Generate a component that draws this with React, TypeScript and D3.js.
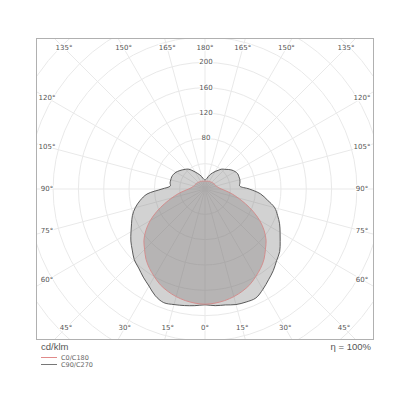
import React from "react";
import * as d3 from "d3";

// Angles (gamma, degrees from nadir)
const angles = [0,5,10,15,20,25,30,35,40,45,50,55,60,65,70,75,80,85,90,95,100,105,110,115,120,125,130,135,140,145,150,155,160,165,170,175,180];

// Intensities in cd/klm
const c0 = [182,181,179,176,172,167,160,153,145,135,126,114,100,84,68,54,43,33,26,22,20,18,17.5,17,16.5,16,15.5,15,14.5,14,14,13.5,13,13,12.5,12.5,12.5];
const c180 = [182,181,179,176,172,167,160,153,145,135,126,114,100,84,68,54,43,33,26,22,20,18,17.5,17,16.5,16,15.5,15,14.5,14,14,13.5,13,13,12.5,12.5,12.5];
const c90 = [183,185,186,189,190,190,183,175,168,160,154,145,137,130,122,114,100,88,70,55,56,57,57,57,55,52,48,44,41,36,32,28,24.5,20.5,17,15,14];
const c270 = [183,185,187,189,191,186,177,170,163,158,150,143,135,128,122,114,104,92,68,55,56,56,56,55,53,50,47,44,41,36,31,27,23.5,20,17,15,14];

const ringValues = [40,80,120,160,200,240,280,320];
const ringLabels = [80,120,160,200];
const angleTicks = [0,15,30,45,60,75,90,105,120,135,150,165,180];

const legendItems = ["C0/C180", "C90/C270"];
const unitLabel = "cd/klm";
const efficiencyLabel = "η = 100%";

export default function App() {
  const W = 400, H = 400;
  const frame = { x0: 36.5, y0: 38.5, x1: 373.5, y1: 339.5 };
  const cx = 205, cy = 189;
  const r = d3.scaleLinear().domain([0, 200]).range([0, 126.6]);

  const labelRect = { x0: 47, x1: 362, y0: 48, y1: 328 };

  const rayToRect = (thetaDeg: number, side: number, rect: { x0: number; x1: number; y0: number; y1: number }) => {
    const t = (thetaDeg * Math.PI) / 180;
    const dx = side * Math.sin(t);
    const dy = Math.cos(t);
    let s = Infinity;
    if (dx > 1e-9) s = Math.min(s, (rect.x1 - cx) / dx);
    if (dx < -1e-9) s = Math.min(s, (rect.x0 - cx) / dx);
    if (dy > 1e-9) s = Math.min(s, (rect.y1 - cy) / dy);
    if (dy < -1e-9) s = Math.min(s, (rect.y0 - cy) / dy);
    return [cx + dx * s, cy + dy * s];
  };

  const buildPath = (right: number[], left: number[]) => {
    const pts: [number, number][] = [];
    angles.forEach((a, i) => {
      pts.push([Math.PI - (a * Math.PI) / 180, r(right[i])]);
    });
    for (let i = angles.length - 2; i >= 1; i--) {
      pts.push([Math.PI + (angles[i] * Math.PI) / 180, r(left[i])]);
    }
    const gen = d3
      .lineRadial<[number, number]>()
      .angle((d) => d[0])
      .radius((d) => d[1])
      .curve(d3.curveCatmullRomClosed.alpha(0.5));
    return gen(pts) || "";
  };

  const pathGray = buildPath(c90, c270);
  const pathRed = buildPath(c0, c180);

  const radialLines: { x: number; y: number }[] = [];
  angleTicks.forEach((a) => {
    [1, -1].forEach((side) => {
      if ((a === 0 || a === 180) && side === -1) return;
      const [x, y] = rayToRect(a, side, { x0: frame.x0 - 5, x1: frame.x1 + 5, y0: frame.y0 - 5, y1: frame.y1 + 5 });
      radialLines.push({ x, y });
    });
  });

  const angleLabels: { x: number; y: number; text: string }[] = [];
  angleTicks.forEach((a) => {
    [1, -1].forEach((side) => {
      if ((a === 0 || a === 180) && side === -1) return;
      const [x, y] = rayToRect(a, side, labelRect);
      angleLabels.push({ x, y, text: `${a}°` });
    });
  });

  const gridColor = "#e9e9e9";
  const font = "DejaVu Sans, sans-serif";

  return (
    <svg width={W} height={H} style={{ position: "absolute", left: 0, top: 0, background: "#fff" }}>
      <defs>
        <clipPath id="frameClip">
          <rect x={frame.x0} y={frame.y0} width={frame.x1 - frame.x0} height={frame.y1 - frame.y0} />
        </clipPath>
      </defs>
      <rect x={0} y={0} width={W} height={H} fill="#fff" />
      <g clipPath="url(#frameClip)">
        {ringValues.map((v) => (
          <circle key={v} cx={cx} cy={cy} r={r(v)} fill="none" stroke={gridColor} strokeWidth={1} />
        ))}
        {radialLines.map((l, i) => (
          <line key={i} x1={cx} y1={cy} x2={l.x} y2={l.y} stroke={gridColor} strokeWidth={1} />
        ))}
        <g transform={`translate(${cx},${cy})`}>
          <path d={pathGray} fill="#7c7c7c" fillOpacity={0.34} stroke="#4a4a4a" strokeWidth={0.9} />
          <path d={pathRed} fill="#767070" fillOpacity={0.3} stroke="#d48888" strokeWidth={0.9} />
        </g>
      </g>
      <rect x={frame.x0} y={frame.y0} width={frame.x1 - frame.x0} height={frame.y1 - frame.y0} fill="none" stroke="#b0b0b0" strokeWidth={1} />
      {angleLabels.map((l, i) => (
        <text key={i} x={l.x} y={l.y} textAnchor="middle" dominantBaseline="central" fontFamily={font} fontSize={7} fill="#555"
          stroke="#fff" strokeWidth={2.5} paintOrder="stroke">
          {l.text}
        </text>
      ))}
      {ringLabels.map((v) => (
        <text key={v} x={cx + 1} y={cy - r(v)} textAnchor="middle" dominantBaseline="central" fontFamily={font} fontSize={7} fill="#555"
          stroke="#fff" strokeWidth={2} paintOrder="stroke">
          {v}
        </text>
      ))}
      <text x={41} y={346} dominantBaseline="central" fontFamily="Liberation Sans, Arial, sans-serif" fontSize={9.5} fill="#555">
        {unitLabel}
      </text>
      <text x={371} y={346} textAnchor="end" dominantBaseline="central" fontFamily="Liberation Sans, Arial, sans-serif" fontSize={9.5} fill="#555">
        {efficiencyLabel}
      </text>
      {legendItems.map((t, i) => (
        <g key={t} transform={`translate(0, ${357.5 + i * 7})`}>
          <line x1={41} x2={57} y1={0} y2={0} stroke={i === 0 ? "#e08a8a" : "#777"} strokeWidth={1} />
          <text x={61} y={0} dominantBaseline="central" fontFamily={font} fontSize={6.5} fill="#666">
            {t}
          </text>
        </g>
      ))}
    </svg>
  );
}
